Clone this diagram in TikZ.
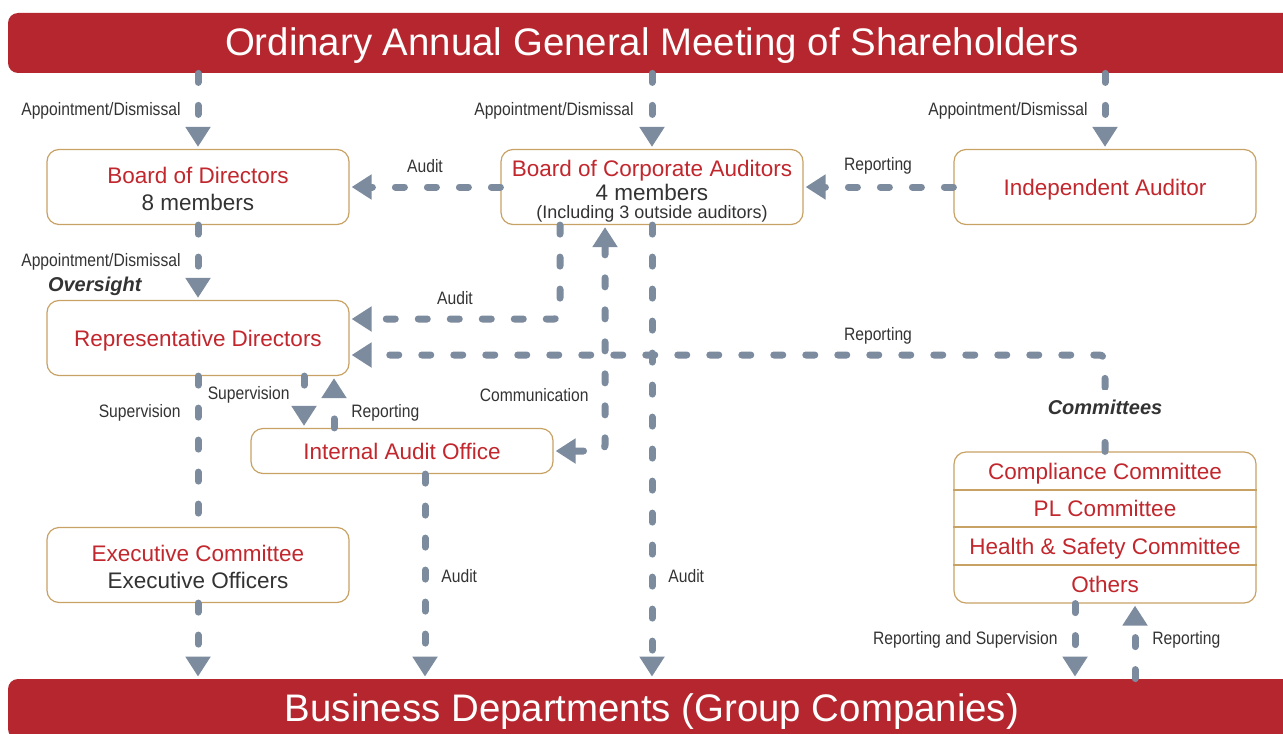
\documentclass[tikz,border=0pt]{standalone}
\usepackage{fontspec}
\setmainfont{Liberation Sans}
\newfontfamily\condfont[FakeStretch=0.87]{Liberation Sans}
\usetikzlibrary{arrows.meta, positioning}
\definecolor{meeting_red}{RGB}{181, 38, 46}
\definecolor{title_red}{RGB}{193, 39, 45}
\definecolor{frame_gold}{RGB}{200, 162, 100}
\definecolor{flow_gray}{RGB}{124, 139, 157}
\definecolor{body_gray}{RGB}{51, 51, 51}
\tikzset{
    bar_node/.style={
        fill=meeting_red,
        rounded corners=5pt,
        minimum width=644pt,
        minimum height=30pt,
        text=white,
        text depth=1.5pt,
        font=\fontsize{19.2}{23}\selectfont
    },
    org_node/.style={
        draw=frame_gold,
        fill=white,
        line width=0.6pt,
        rounded corners=6pt,
        minimum width=151pt,
        minimum height=37.5pt,
        align=center,
        text=body_gray,
        font=\fontsize{11.25}{13.5}\selectfont
    },
    one_line/.style={
        text height=8.1pt,
        text depth=0pt
    },
    row_text/.style={
        text=title_red,
        one_line,
        font=\fontsize{11.25}{13.5}\selectfont
    },
    flow_line/.style={
        line width=3.5pt,
        draw=flow_gray,
        dash pattern=on 4.5pt off 11.5pt,
        line cap=round,
        rounded corners=3pt
    },
    flow_arrow/.style={
        flow_line,
        -{Triangle[width=12pt,length=10pt]},
        shorten >=1pt
    },
    flow_both/.style={
        flow_line,
        {Triangle[width=12pt,length=10pt]}-{Triangle[width=12pt,length=10pt]},
        shorten >=1pt,
        shorten <=1pt
    },
    flow_label/.style={
        font=\condfont\fontsize{9}{10}\selectfont,
        text=body_gray,
        inner sep=1pt
    },
    group_label/.style={
        font=\bfseries\itshape\fontsize{10}{12}\selectfont,
        text=body_gray
    }
}

\begin{document}
\begin{tikzpicture}[x=0.5pt, y=-0.5pt]

\useasboundingbox (0,0) rectangle (1283,733);

% Shareholders and business departments
\node[bar_node] (agm) at (652,43) {Ordinary Annual General Meeting of Shareholders};
\node[bar_node] (bus) at (652,709) {Business Departments (Group Companies)};

% Boards and auditors
\node[org_node] (bod) at (198,187) {
    \rule{0pt}{10.2pt}\textcolor{title_red}{Board of Directors} \\
    8 members
};
\node[org_node, inner ysep=0pt] (bca) at (652,187) {
    \rule{0pt}{12.5pt}\textcolor{title_red}{Board of Corporate Auditors} \\[-1.5pt]
    4 members \\[-4.5pt]
    {\fontsize{9}{10}\selectfont (Including 3 outside auditors)}
};
\node[org_node, one_line] (ia) at (1105,187) {\textcolor{title_red}{Independent Auditor}};

% Executive side
\node[org_node, one_line] (rep) at (198,338) {\textcolor{title_red}{Representative Directors}};
\node[org_node, one_line, minimum height=22.5pt] (iao) at (402,451) {\textcolor{title_red}{Internal Audit Office}};
\node[org_node] (exec) at (198,565) {
    \rule{0pt}{10.2pt}\textcolor{title_red}{Executive Committee} \\
    Executive Officers
};

% Committees
\node[org_node, minimum height=75.5pt] (comm) at (1105,527.5) {};
\foreach \y in {490, 527, 565} {
    \draw[frame_gold, line width=0.6pt] (comm.west |- 0,\y) -- (comm.east |- 0,\y);
}
\node[row_text] (compliance) at (1105,471) {Compliance Committee};
\node[row_text] (pl) at (1105,508) {PL Committee};
\node[row_text] (safety) at (1105,546) {Health \& Safety Committee};
\node[row_text] (others) at (1105,584) {Others};

% Appointment from the shareholders
\draw[flow_arrow] (bod.north |- agm.south) -- (bod.north);
\draw[flow_arrow] (bca.north |- agm.south) -- (bca.north);
\draw[flow_arrow] (ia.north |- agm.south) -- (ia.north);
\node[flow_label, anchor=east] (appbod) at (183,111) {Appointment/Dismissal};
\node[flow_label, anchor=east] (appbca) at (636,111) {Appointment/Dismissal};
\node[flow_label, anchor=east] (appia) at (1090,111) {Appointment/Dismissal};

% Audit and reporting between the boards
\draw[flow_arrow] (bca.west) -- (bod.east);
\draw[flow_arrow] (ia.west) -- (bca.east);
\node[flow_label] (auditbod) at (425,166) {Audit};
\node[flow_label] (repbca) at (878,166) {Reporting};

% Board of directors over representative directors
\draw[flow_arrow] (bod.south) -- (rep.north);
\node[flow_label, anchor=east] (apprep) at (183,262) {Appointment/Dismissal};
\node[group_label, anchor=west] (oversight) at (41,286) {Oversight};

% Lines into representative directors
\draw[flow_arrow] ([xshift=-46pt]bca.south) |- ([yshift=9.5pt]rep.east);
\draw[flow_arrow] (comm.north) |- ([yshift=-8.5pt]rep.east);
\node[flow_label] (auditrep) at (455,298) {Audit};
\node[flow_label] (repcomm) at (878,336) {Reporting};
\node[group_label, fill=white, inner ysep=5pt] (committees) at (1105,407) {Committees};

% Internal audit office
\draw[flow_both] ([xshift=-23.5pt]bca.south) |- (iao.east);
\node[flow_label, anchor=east] (comms) at (591,395) {Communication};
\draw[flow_arrow] ([xshift=53pt]rep.south) -- ([xshift=53pt]rep.south |- iao.north);
\draw[flow_arrow] ([xshift=-34pt]iao.north) -- ([xshift=-34pt]iao.north |- rep.south);
\node[flow_label, anchor=east] (supiao) at (292,395) {Supervision};
\node[flow_label, anchor=west] (repiao) at (349,413) {Reporting};

% Executive line
\draw[flow_line] (rep.south) -- (exec.north);
\draw[flow_arrow] (exec.south) -- (exec.south |- bus.north);
\node[flow_label, anchor=east] (supexec) at (183,413) {Supervision};

% Audit down to business departments
\draw[flow_arrow] ([xshift=11.5pt]iao.south) -- ([xshift=11.5pt]iao.south |- bus.north);
\draw[flow_arrow] (bca.south) -- (bca.south |- bus.north);
\node[flow_label, anchor=west] (auditiao) at (439,576) {Audit};
\node[flow_label, anchor=west] (auditbca) at (666,576) {Audit};

% Committees and business departments
\draw[flow_arrow] ([xshift=-15pt]comm.south) -- ([xshift=-15pt]comm.south |- bus.north);
\draw[flow_arrow] ([xshift=15pt]comm.south |- bus.north) -- ([xshift=15pt]comm.south);
\node[flow_label, anchor=east] (repsup) at (1060,640) {Reporting and Supervision};
\node[flow_label, anchor=west] (repbus) at (1150,640) {Reporting};

\end{tikzpicture}
\end{document}
